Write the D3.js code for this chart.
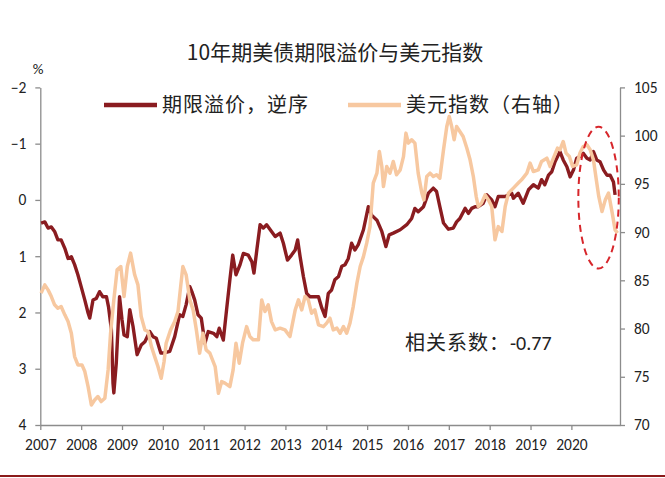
<!DOCTYPE html>
<html lang="zh-CN">
<head>
<meta charset="UTF-8">
<title>10年期美债期限溢价与美元指数</title>
<script src="https://cdnjs.cloudflare.com/ajax/libs/d3/7.8.5/d3.min.js"></script>
<style>
  body { margin: 0; background: #fff; }
  svg text { font-family: Carlito, Lato, "Noto Sans CJK SC", sans-serif; fill: #222; }
  .cjk { font-family: "Noto Sans CJK SC", sans-serif; }
  .axis path, .axis line { stroke: #8c8c8c; stroke-width: 1.3; }
</style>
</head>
<body>
<div id="chart"></div>
<script>
// 10Y term premium (%, plotted on a reversed left axis), [year, value]
const termPremium = [
  [2007.02,0.41],[2007.11,0.39],[2007.19,0.50],[2007.27,0.48],[2007.35,0.56],[2007.43,0.71],
  [2007.51,0.71],[2007.60,0.86],[2007.68,1.04],[2007.76,1.01],[2007.84,1.15],[2007.92,1.33],
  [2008.00,1.54],[2008.09,1.78],[2008.17,2.01],[2008.21,2.10],[2008.29,1.78],[2008.37,1.75],
  [2008.45,1.63],[2008.53,1.72],[2008.62,1.72],[2008.67,1.90],[2008.74,2.31],[2008.78,3.26],
  [2008.80,3.43],[2008.86,2.90],[2008.94,1.72],[2009.00,2.13],[2009.05,2.40],[2009.13,2.43],
  [2009.19,1.95],[2009.27,2.25],[2009.37,2.75],[2009.47,2.58],[2009.56,2.52],[2009.68,2.34],
  [2009.76,2.43],[2009.84,2.46],[2009.95,2.72],[2010.03,2.72],[2010.17,2.69],[2010.29,2.43],
  [2010.41,2.04],[2010.49,2.07],[2010.57,1.86],[2010.66,1.54],[2010.71,1.63],[2010.78,1.78],
  [2010.86,2.04],[2010.94,2.10],[2011.03,2.55],[2011.11,2.34],[2011.24,2.37],[2011.32,2.43],
  [2011.38,2.28],[2011.48,2.49],[2011.56,1.95],[2011.64,1.42],[2011.71,0.98],[2011.79,1.33],
  [2011.89,1.15],[2011.97,0.95],[2012.09,0.98],[2012.18,1.10],[2012.23,1.30],[2012.30,0.89],
  [2012.38,0.44],[2012.46,0.50],[2012.54,0.44],[2012.66,0.56],[2012.75,0.65],[2012.87,0.59],
  [2012.95,0.77],[2013.05,1.07],[2013.15,0.98],[2013.24,0.89],[2013.30,0.71],[2013.36,1.01],
  [2013.44,1.36],[2013.52,1.66],[2013.60,1.72],[2013.72,1.72],[2013.81,1.72],[2013.89,1.92],
  [2013.97,2.07],[2014.05,1.66],[2014.13,1.60],[2014.21,1.42],[2014.30,1.36],[2014.38,1.18],
  [2014.46,1.15],[2014.54,1.04],[2014.62,0.77],[2014.70,0.89],[2014.78,0.80],[2014.91,0.53],
  [2015.03,0.12],[2015.11,0.27],[2015.24,0.36],[2015.36,0.56],[2015.46,0.83],[2015.54,0.62],
  [2015.64,0.59],[2015.81,0.53],[2015.97,0.44],[2016.09,0.33],[2016.17,0.15],[2016.25,0.21],
  [2016.38,0.12],[2016.50,-0.12],[2016.62,-0.21],[2016.70,-0.15],[2016.78,0.12],[2016.87,0.41],
  [2016.99,0.52],[2017.11,0.50],[2017.19,0.39],[2017.27,0.33],[2017.40,0.15],[2017.48,0.24],
  [2017.56,0.15],[2017.64,0.12],[2017.72,0.12],[2017.84,0.06],[2017.93,-0.09],[2018.05,0.00],
  [2018.13,0.12],[2018.21,-0.06],[2018.38,-0.06],[2018.54,-0.12],[2018.58,-0.03],[2018.70,-0.12],
  [2018.82,0.06],[2018.95,-0.18],[2019.07,-0.27],[2019.19,-0.21],[2019.27,-0.36],[2019.35,-0.27],
  [2019.44,-0.44],[2019.52,-0.50],[2019.60,-0.68],[2019.72,-0.86],[2019.80,-0.71],[2019.89,-0.59],
  [2019.97,-0.41],[2020.05,-0.53],[2020.13,-0.74],[2020.21,-0.77],[2020.29,-0.83],[2020.38,-0.74],
  [2020.46,-0.71],[2020.54,-0.86],[2020.62,-0.71],[2020.70,-0.68],[2020.79,-0.53],[2020.87,-0.44],
  [2020.95,-0.44],[2021.03,-0.32],[2021.07,-0.09]
];

// US dollar index (right axis), [year, value]
const dollarIndex = [
  [2007.02,83.67],[2007.11,84.53],[2007.19,84.01],[2007.27,83.32],[2007.35,82.46],[2007.43,82.11],
  [2007.51,82.28],[2007.60,81.42],[2007.68,80.72],[2007.76,79.52],[2007.84,77.09],[2007.92,76.23],
  [2008.02,76.23],[2008.09,75.54],[2008.17,73.98],[2008.25,72.08],[2008.33,72.60],[2008.41,72.95],
  [2008.49,72.43],[2008.58,72.78],[2008.66,75.71],[2008.72,79.52],[2008.80,82.97],[2008.88,86.08],
  [2008.97,86.43],[2009.05,83.32],[2009.13,86.43],[2009.21,87.82],[2009.31,85.57],[2009.39,84.53],
  [2009.47,81.24],[2009.56,79.86],[2009.64,79.69],[2009.72,78.13],[2009.80,77.09],[2009.88,76.06],
  [2009.96,74.85],[2010.03,76.58],[2010.08,78.48],[2010.19,79.86],[2010.29,80.72],[2010.37,81.76],
  [2010.44,84.53],[2010.49,86.43],[2010.57,85.57],[2010.66,82.97],[2010.74,81.94],[2010.82,79.86],
  [2010.90,77.45],[2010.98,79.52],[2011.06,77.79],[2011.15,77.45],[2011.28,76.06],[2011.36,73.30],
  [2011.44,74.50],[2011.52,74.34],[2011.64,73.98],[2011.72,75.71],[2011.79,78.48],[2011.87,76.41],
  [2011.95,78.48],[2012.05,80.20],[2012.13,79.17],[2012.21,78.83],[2012.34,78.83],[2012.42,82.97],
  [2012.50,81.76],[2012.58,82.46],[2012.66,80.72],[2012.75,79.86],[2012.87,80.04],[2012.99,79.86],
  [2013.11,79.17],[2013.24,81.94],[2013.32,82.97],[2013.40,81.94],[2013.48,83.32],[2013.56,82.97],
  [2013.64,81.59],[2013.72,81.94],[2013.81,80.38],[2013.93,80.20],[2014.01,80.56],[2014.09,81.08],
  [2014.17,79.86],[2014.26,80.04],[2014.34,79.52],[2014.42,80.20],[2014.50,79.52],[2014.58,80.56],
  [2014.66,82.28],[2014.75,84.71],[2014.83,86.43],[2014.91,87.46],[2014.99,88.85],[2015.07,90.57],
  [2015.15,95.08],[2015.24,96.11],[2015.30,98.35],[2015.36,96.80],[2015.40,94.72],[2015.48,96.80],
  [2015.56,96.11],[2015.64,97.32],[2015.72,95.94],[2015.81,96.45],[2015.89,97.83],[2015.95,100.26],
  [2016.01,99.22],[2016.09,99.57],[2016.17,99.22],[2016.21,97.67],[2016.25,96.11],[2016.34,94.04],
  [2016.39,93.34],[2016.46,95.76],[2016.54,96.11],[2016.62,95.76],[2016.70,95.94],[2016.78,95.59],
  [2016.87,98.53],[2016.95,100.95],[2017.01,101.98],[2017.07,100.95],[2017.13,99.57],[2017.19,100.95],
  [2017.27,100.43],[2017.35,99.91],[2017.44,98.71],[2017.52,97.49],[2017.60,95.76],[2017.67,93.69],
  [2017.72,92.65],[2017.80,93.00],[2017.89,93.86],[2017.97,93.34],[2018.05,92.65],[2018.13,89.20],
  [2018.21,90.57],[2018.30,90.06],[2018.38,92.65],[2018.46,94.04],[2018.58,94.56],[2018.70,95.08],
  [2018.78,95.42],[2018.91,96.11],[2018.99,97.15],[2019.07,96.28],[2019.19,96.45],[2019.27,97.32],
  [2019.40,97.67],[2019.48,96.80],[2019.56,97.67],[2019.66,98.71],[2019.72,98.53],[2019.80,99.39],
  [2019.87,98.19],[2019.95,97.83],[2020.03,96.80],[2020.13,96.97],[2020.21,98.19],[2020.29,98.87],
  [2020.38,99.05],[2020.46,98.53],[2020.54,97.49],[2020.61,95.42],[2020.67,93.69],[2020.75,92.13],
  [2020.83,93.34],[2020.91,94.04],[2021.00,91.96],[2021.07,90.23],[2021.13,89.89]
];

const yearTicks = d3.range(2007, 2021);
const leftTicks = [-2, -1, 0, 1, 2, 3, 4];
const rightTicks = [70, 75, 80, 85, 90, 95, 100, 105];
const correlation = -0.77;
// highlighted window (dashed ellipse): years and term-premium range
const highlightYears = [2020.17, 2021.16];
const highlightTP = [-1.3, 1.22];

const width = 665, height = 478;
const dark = "#8a1c20", light = "#f7c8a0";

const svg = d3.select("#chart").append("svg")
  .attr("width", width)
  .attr("height", height);

const x = d3.scaleLinear().domain([2007, 2021.19]).range([40.3, 620]);
const yL = d3.scaleLinear().domain([-2, 4]).range([87.4, 425]);
const yR = d3.scaleLinear().domain([105, 70]).range([87.4, 425]);

// axes
svg.append("g")
  .attr("class", "axis")
  .attr("transform", `translate(0,${yL(4)})`)
  .call(d3.axisBottom(x).tickValues(yearTicks).tickFormat(d3.format("d"))
    .tickSize(5).tickSizeOuter(0).tickPadding(9))
  .call(g => g.selectAll("text").attr("font-size", 15.5).attr("fill", "#222"));

svg.append("g")
  .attr("class", "axis")
  .attr("transform", `translate(${x(2007)},0)`)
  .call(d3.axisLeft(yL).tickValues(leftTicks).tickFormat(d3.format("d"))
    .tickSize(5).tickSizeOuter(0).tickPadding(9))
  .call(g => g.selectAll("text").attr("font-size", 15.5).attr("fill", "#222"));

svg.append("g")
  .attr("class", "axis")
  .attr("transform", `translate(${x.range()[1]},0)`)
  .call(d3.axisRight(yR).tickValues(rightTicks)
    .tickSize(5).tickSizeOuter(0).tickPadding(9))
  .call(g => g.selectAll("text").attr("font-size", 15.5).attr("fill", "#222"));

svg.selectAll(".axis text").attr("font-family", "Carlito, Lato, sans-serif");

// series
const lineTP = d3.line().x(d => x(d[0])).y(d => yL(d[1]));
const lineDX = d3.line().x(d => x(d[0])).y(d => yR(d[1]));

svg.append("path")
  .datum(termPremium)
  .attr("d", lineTP)
  .attr("fill", "none")
  .attr("stroke", dark)
  .attr("stroke-width", 3.4)
  .attr("stroke-linejoin", "round");

svg.append("path")
  .datum(dollarIndex)
  .attr("d", lineDX)
  .attr("fill", "none")
  .attr("stroke", light)
  .attr("stroke-width", 3.5)
  .attr("stroke-linejoin", "round");

// dashed ellipse around the latest period
const ex0 = x(highlightYears[0]), ex1 = x(highlightYears[1]);
const ey0 = yL(highlightTP[0]), ey1 = yL(highlightTP[1]);
svg.append("ellipse")
  .attr("cx", (ex0 + ex1) / 2)
  .attr("cy", (ey0 + ey1) / 2)
  .attr("rx", (ex1 - ex0) / 2)
  .attr("ry", (ey1 - ey0) / 2)
  .attr("fill", "none")
  .attr("stroke", "#d7262b")
  .attr("stroke-width", 2)
  .attr("stroke-dasharray", "7,5");

// title, unit, legend, note
svg.append("text")
  .attr("class", "cjk")
  .attr("x", 335).attr("y", 60)
  .attr("text-anchor", "middle")
  .attr("font-size", 21)
  .text("10年期美债期限溢价与美元指数");

svg.append("text")
  .attr("x", 38).attr("y", 74)
  .attr("text-anchor", "middle")
  .attr("font-size", 15)
  .text("%");

const legend = [
  { label: "期限溢价，逆序", color: dark, x: 104 },
  { label: "美元指数（右轴）", color: light, x: 348 }
];
const lg = svg.selectAll(".legend").data(legend).enter().append("g")
  .attr("transform", d => `translate(${d.x},105)`);
lg.append("line")
  .attr("x1", 0).attr("x2", 53)
  .attr("stroke", d => d.color)
  .attr("stroke-width", 4.5);
lg.append("text")
  .attr("class", "cjk")
  .attr("x", 58).attr("y", 7)
  .attr("font-size", 20)
  .attr("letter-spacing", 1)
  .text(d => d.label);

const note = svg.append("text").attr("x", 405).attr("y", 350).attr("font-size", 20);
note.append("tspan").attr("class", "cjk").attr("letter-spacing", 1).text("相关系数：");
note.append("tspan").text(d3.format(".2f")(correlation).replace("−", "-"));

// bottom rule
svg.append("line")
  .attr("x1", 0).attr("x2", width)
  .attr("y1", 476).attr("y2", 476)
  .attr("stroke", "#8b1a1a")
  .attr("stroke-width", 2);
</script>
</body>
</html>
